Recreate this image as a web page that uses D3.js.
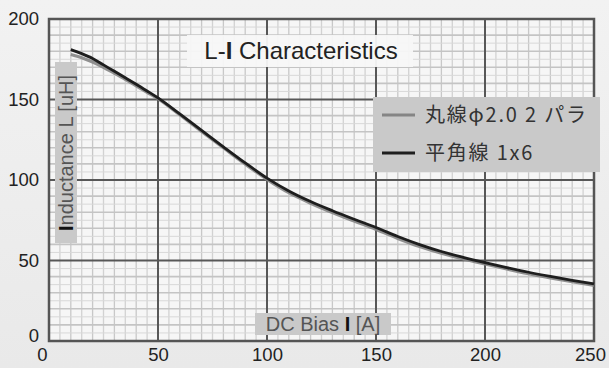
<!DOCTYPE html>
<html><head><meta charset="utf-8">
<script src="https://cdn.jsdelivr.net/npm/d3@7"></script>
<style>
html,body{margin:0;padding:0;background:#ececec;}
svg{display:block;}
</style></head>
<body>
<svg id="c" width="609" height="368"></svg>
<script>
// ---- data ----
const currentA = [10,15,20,25,30,35,40,45,50,60,70,80,90,100,110,120,130,140,150,160,170,180,190,200,210,220,230,240,250];
const flatWire = [181,178.5,175.5,171.5,167.5,163.5,159.5,155.3,151,141,130.8,120.6,110.6,101.2,93.2,86.6,80.9,75.6,70.5,64.9,59.9,55.6,52,48.7,45.6,42.7,40.1,37.7,35.5];
const roundWire = [178,176,173.3,170,166.3,162.5,158.5,154.5,150.5,140.5,130.2,120,109.9,100.4,92.1,85.6,79.8,74.5,69.3,63.7,58.7,54.5,51,47.8,44.7,41.8,39.2,36.8,34.5];
const xTicks = [0,50,100,150,200,250];
const yTicks = [0,50,100,150,200];
const seriesNames = ["丸線φ2.0 2 パラ","平角線 1x6"];
const seriesColors = ["#858585","#1e1e1e"];

const svg = d3.select("#c");
const x = d3.scaleLinear().domain([0,250]).range([49,594]);
const y = d3.scaleLinear().domain([0,200]).range([341,19]);

// background gradient
const defs = svg.append("defs");
const g1 = defs.append("linearGradient").attr("id","bg").attr("x1",0).attr("y1",0).attr("x2",0).attr("y2",1);
g1.append("stop").attr("offset","0%").attr("stop-color","#f2f2f2");
g1.append("stop").attr("offset","100%").attr("stop-color","#e9e9e9");
svg.append("rect").attr("width",609).attr("height",368).attr("fill","url(#bg)");

// plot area
svg.append("rect").attr("x",x(0)).attr("y",y(200)).attr("width",x(250)-x(0)).attr("height",y(0)-y(200)).attr("fill","#f6f6f6");

// minor grid
const minorX = d3.range(0,251,5).filter(v=>v%50!==0);
const minorY = d3.range(0,201,5).filter(v=>v%50!==0);
svg.append("g").selectAll("line").data(minorX).join("line")
  .attr("x1",d=>x(d)).attr("x2",d=>x(d)).attr("y1",y(200)).attr("y2",y(0))
  .attr("stroke",d=>d%10===0?"#c8c8c8":"#d2d2d2").attr("stroke-width",1.3);
svg.append("g").selectAll("line").data(minorY).join("line")
  .attr("y1",d=>y(d)).attr("y2",d=>y(d)).attr("x1",x(0)).attr("x2",x(250))
  .attr("stroke",d=>d%10===0?"#c4c4c4":"#d8d8d8").attr("stroke-width",d=>d%10===0?1.6:1);

// major grid
svg.append("g").selectAll("line").data(xTicks).join("line")
  .attr("x1",d=>x(d)).attr("x2",d=>x(d)).attr("y1",y(200)).attr("y2",y(0))
  .attr("stroke","#575757").attr("stroke-width",2);
svg.append("g").selectAll("line").data(yTicks).join("line")
  .attr("y1",d=>y(d)).attr("y2",d=>y(d)).attr("x1",x(0)).attr("x2",x(250))
  .attr("stroke","#575757").attr("stroke-width",2);
svg.append("rect").attr("x",x(0)).attr("y",y(200)).attr("width",x(250)-x(0)).attr("height",y(0)-y(200))
  .attr("fill","none").attr("stroke","#555").attr("stroke-width",2.5);

// axes
const font = "'Liberation Sans', Arial, Helvetica, sans-serif";
const ax = svg.append("g").attr("transform",`translate(0,${y(0)+3})`)
  .call(d3.axisBottom(x).tickValues(xTicks).tickSize(0).tickPadding(4));
ax.select(".domain").remove();
ax.selectAll("text").attr("font-size",18.5).attr("font-family",font).attr("fill","#222")
  .attr("dx",d=>d===0?-7:(d===250?-4:0));
const ay = svg.append("g").attr("transform",`translate(${x(0)-9},0)`)
  .call(d3.axisLeft(y).tickValues(yTicks).tickSize(0).tickPadding(1));
ay.select(".domain").remove();
ay.selectAll("text").attr("font-size",18.5).attr("font-family",font).attr("fill","#222")
  .attr("dy",d=>d===0?"0.05em":"0.32em");

// curves
const line = d3.line().x((d,i)=>x(currentA[i])).y(d=>y(d)).curve(d3.curveMonotoneX);
svg.append("path").datum(roundWire).attr("d",line).attr("fill","none")
  .attr("stroke",seriesColors[0]).attr("stroke-width",3.2).attr("opacity",0.9);
svg.append("path").datum(flatWire).attr("d",line).attr("fill","none")
  .attr("stroke",seriesColors[1]).attr("stroke-width",2.8);

// title box
svg.append("rect").attr("x",187).attr("y",35).attr("width",226).attr("height",32).attr("fill","#f7f7f7").attr("opacity",0.95);
const t = svg.append("text").attr("x",301).attr("y",59).attr("text-anchor","middle")
  .attr("font-family",font).attr("font-size",24).attr("fill","#222");
t.append("tspan").text("L-");
t.append("tspan").attr("font-weight","bold").text("I");
t.append("tspan").text(" Characteristics");

// legend
svg.append("rect").attr("x",373).attr("y",97).attr("width",227).attr("height",75).attr("fill","#c9c9c9");
const lg = svg.append("g").selectAll("g").data(seriesNames).join("g")
  .attr("transform",(d,i)=>`translate(0,${115+i*38})`);
lg.append("line").attr("x1",382).attr("x2",415).attr("y1",0).attr("y2",0)
  .attr("stroke",(d,i)=>seriesColors[i]).attr("stroke-width",3);
lg.append("text").attr("x",425).attr("y",7).attr("font-size",20).attr("letter-spacing",1.8)
  .attr("font-family","'Noto Sans CJK JP', sans-serif").attr("fill","#333").text(d=>d);

// x axis title
svg.append("rect").attr("x",255).attr("y",313).attr("width",136).attr("height",22).attr("fill","#c9c9c9");
const xt = svg.append("text").attr("x",323).attr("y",331).attr("text-anchor","middle")
  .attr("font-family",font).attr("font-size",20).attr("fill","#555");
xt.append("tspan").text("DC Bias ");
xt.append("tspan").attr("font-weight","bold").attr("fill","#111").text("I");
xt.append("tspan").text(" [A]");

// y axis title
svg.append("rect").attr("x",55).attr("y",62).attr("width",22).attr("height",181).attr("fill","#c9c9c9");
const yt = svg.append("text").attr("transform","translate(73,153) rotate(-90)").attr("text-anchor","middle")
  .attr("font-family",font).attr("font-size",20).attr("fill","#555");
yt.append("tspan").attr("font-weight","bold").attr("fill","#111").text("I");
yt.append("tspan").text("nductance L [uH]");
</script>
</body></html>
